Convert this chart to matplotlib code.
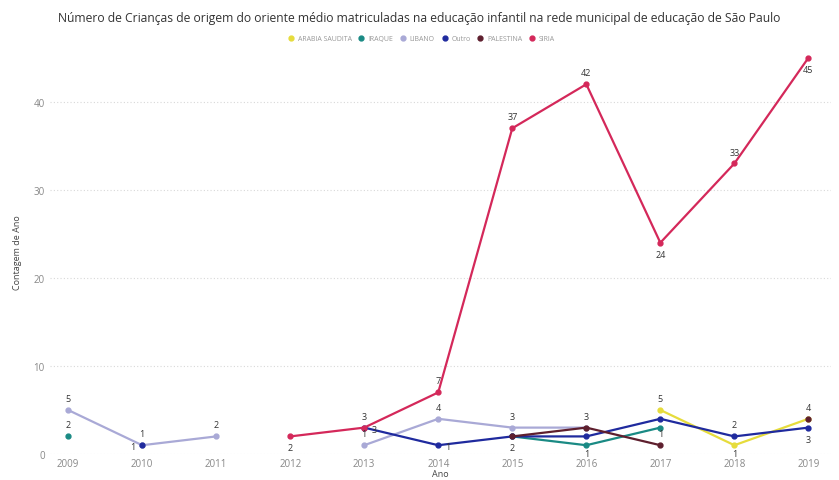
import numpy as np
import matplotlib
matplotlib.use("Agg")
import matplotlib.pyplot as plt

plt.rcParams['font.family'] = ['Open Sans', 'DejaVu Sans']

years = [2009, 2010, 2011, 2012, 2013, 2014, 2015, 2016, 2017, 2018, 2019]
nan = np.nan
arabia_saudita = [nan, nan, nan, nan, nan, nan, nan, nan, 5, 1, 4]
iraque = [2, nan, nan, nan, nan, nan, 2, 1, 3, nan, nan]
libano = [5, 1, 2, nan, 1, 4, 3, 3, nan, nan, nan]
outro = [nan, 1, nan, nan, 3, 1, 2, 2, 4, 2, 3]
palestina = [nan, nan, nan, nan, nan, nan, 2, 3, 1, nan, 4]
siria = [nan, nan, nan, 2, 3, 7, 37, 42, 24, 33, 45]

series_names = ["ARABIA SAUDITA", "IRAQUE", "LIBANO", "Outro", "PALESTINA", "SIRIA"]
series_values = [arabia_saudita, iraque, libano, outro, palestina, siria]
colors = ["#E6DC3C", "#1A8A84", "#A9A9D6", "#1F2A9E", "#5E1F2E", "#D4285A"]

# label placement (style only): 1 above, -1 below, 2 right, -2 left, 0 none
placements = {
    "SIRIA": [0, 0, 0, -1, 1, 1, 1, 1, -1, 1, -1],
    "LIBANO": [1, -2, 1, 1, 1, 1, 1, 0, 0, 0, 0],
    "Outro": [0, 1, 0, 0, 2, 2, 0, 0, 0, 1, -1],
    "IRAQUE": [1, 0, 0, 0, 0, 0, -1, -1, 0, 0, 0],
    "PALESTINA": [0, 0, 0, 0, 0, 0, 0, 1, 1, 0, 1],
    "ARABIA SAUDITA": [0, 0, 0, 0, 0, 0, 0, 0, 1, -1, 0],
}

fig = plt.figure(figsize=(8.39, 4.81), dpi=100)
ax = fig.add_axes([0.06, 0.054, 0.93, 0.842])

for name, vals, c in zip(series_names, series_values, colors):
    v = np.array(vals, dtype=float)
    ax.plot(years, v, color=c, lw=1.6, marker='o', ms=3.5, label=name, zorder=3)
    for x, y, p in zip(years, v, placements[name]):
        if np.isnan(y) or p == 0:
            continue
        if abs(p) == 1:
            off = (0, 5 * p)
            ha, va = 'center', ('bottom' if p > 0 else 'top')
            if p < 0 and y < 2:
                off = (0, -3)
        else:
            off = (5 * np.sign(p), -1)
            ha, va = ('left' if p > 0 else 'right'), 'center'
        ax.annotate(f"{int(y)}", (x, y), xytext=off, textcoords='offset points',
                    ha=ha, va=va, fontsize=6.5, color='#333333', zorder=4)

ax.set_xlim(2008.76, 2019.3)
ax.set_ylim(0, 46)
ax.set_xticks(years)
ax.set_xticklabels([str(y) for y in years])
ax.set_yticks([0, 10, 20, 30, 40])
ax.tick_params(axis='both', length=0, labelsize=7, colors='#888888', pad=4)
ax.tick_params(axis='x', pad=3)
ax.grid(axis='y', color='#D8D8D8', linestyle=(0, (1, 2)), lw=0.8)
for s in ax.spines.values():
    s.set_visible(False)
ax.set_xlabel("Ano", fontsize=6.5, color='#444444', labelpad=0)
ax.set_ylabel("Contagem de Ano", fontsize=6.5, color='#444444', labelpad=8)

fig.text(0.5, 0.962, "Número de Crianças de origem do oriente médio matriculadas na educação infantil na rede municipal de educação de São Paulo",
         ha='center', va='center', fontsize=8.7, color='#333333')

# legend
handles = [plt.Line2D([], [], marker='o', ls='', color=c, ms=3.5) for c in colors]
fig.legend(handles, series_names, loc='center', bbox_to_anchor=(0.5, 0.917), ncol=6,
           frameon=False, fontsize=5, handletextpad=0.0, columnspacing=0.4,
           labelcolor='#999999')

fig.savefig("out.png", dpi=100)
